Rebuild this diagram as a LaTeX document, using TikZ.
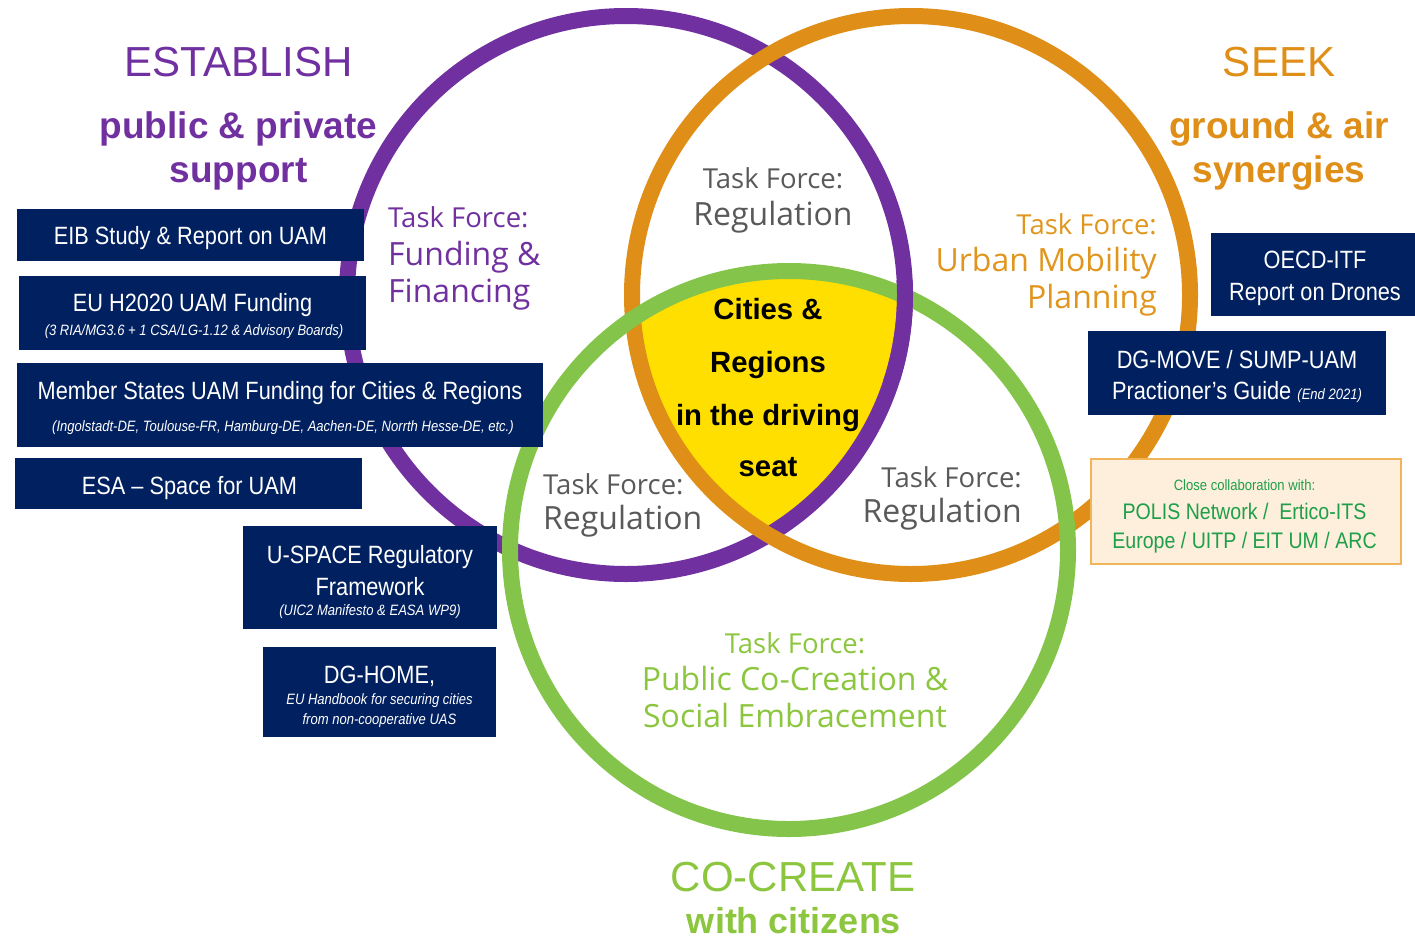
\documentclass[tikz,border=0pt]{standalone}
\usepackage{fontspec}
\setmainfont{Liberation Sans}
\newfontfamily\narrowf[FakeStretch=0.87]{Liberation Sans}
\newfontfamily\openf{Open Sans}
\definecolor{cpurple}{HTML}{7030A0}
\definecolor{corange}{HTML}{DF8E17}
\definecolor{cgreen}{HTML}{84C44B}
\definecolor{cnavy}{HTML}{002060}
\definecolor{cyellow}{HTML}{FFDF00}
\definecolor{cgray}{HTML}{595959}
\definecolor{ctfgreen}{HTML}{8CC63F}
\definecolor{ctforange}{HTML}{E0961E}
\definecolor{cboxfill}{HTML}{FDEFDB}
\definecolor{cboxdraw}{HTML}{F0B45A}
\definecolor{cboxtext}{HTML}{1F9F4A}
\tikzset{
  ring/.style={line width=16pt},
  navybox/.style={fill=cnavy,draw=none,inner sep=0pt,anchor=north west},
  txt/.style={inner sep=0pt,anchor=base},
  boxbig/.style={txt,text=white,font=\narrowf\fontsize{25}{30}\selectfont},
  boxsmall/.style={txt,text=white,font=\narrowf\itshape\fontsize{15}{18}\selectfont},
  title/.style={txt,font=\fontsize{42}{50}\selectfont},
  subtitle/.style={txt,font=\bfseries\fontsize{37}{44}\selectfont},
  tfhead/.style={txt,font=\openf\fontsize{27.5}{33}\selectfont},
  tfmain/.style={txt,font=\openf\fontsize{32}{38}\selectfont},
  core/.style={txt,font=\bfseries\fontsize{29.3}{35}\selectfont},
}
\begin{document}
\begin{tikzpicture}[x=1pt,y=-1pt]
\useasboundingbox (0,0) rectangle (1415,942);
% centres of the three rings
\coordinate (cp) at (626,295);
\coordinate (co) at (911,295);
\coordinate (cg) at (789,550);
% yellow core
\begin{scope}
  \clip (cp) circle[radius=279pt];
  \clip (co) circle[radius=279pt];
  \fill[cyellow] (cg) circle[radius=279pt];
\end{scope}
% rings
\draw[ring,cpurple] (cp) circle[radius=279pt];
\draw[ring,corange] (co) circle[radius=279pt];
\draw[ring,cgreen] (cg) circle[radius=279pt];
\begin{scope}
  \clip (860,280) rectangle (960,380);
  \draw[ring,cpurple] (cp) circle[radius=279pt];
\end{scope}

% titles
\node[title,text=cpurple] (est) at (238.5,76) {ESTABLISH};
\node[subtitle,text=cpurple] (est1) at (238.5,138) {public \& private};
\node[subtitle,text=cpurple] (est2) at (238.5,182) {support};
\node[title,text=corange] (seek) at (1279,76) {SEEK};
\node[subtitle,text=corange] (seek1) at (1279,138) {ground \& air};
\node[subtitle,text=corange] (seek2) at (1279,182) {synergies};
\node[title,text=ctfgreen] (cocr) at (793,891) {CO-CREATE};
\node[subtitle,text=ctfgreen,font=\bfseries\fontsize{36}{43}\selectfont] (cocr1) at (794,933) {with citizens};

% task forces
\node[tfhead,anchor=base west,text=cpurple] (tfp1) at (388,227) {Task Force:};
\node[tfmain,anchor=base west,text=cpurple] (tfp2) at (388,265) {Funding \&};
\node[tfmain,anchor=base west,text=cpurple] (tfp3) at (388,302) {Financing};

\node[tfhead,text=cgray] (tft1) at (773,188) {Task Force:};
\node[tfmain,text=cgray] (tft2) at (773,225) {Regulation};

\node[tfhead,anchor=base east,text=ctforange] (tfo1) at (1157,234) {Task Force:};
\node[tfmain,anchor=base east,text=ctforange] (tfo2) at (1157,271) {Urban Mobility};
\node[tfmain,anchor=base east,text=ctforange] (tfo3) at (1157,308) {Planning};

\node[tfhead,anchor=base west,text=cgray] (tfl1) at (543,494) {Task Force:};
\node[tfmain,anchor=base west,text=cgray] (tfl2) at (543,529) {Regulation};

\node[tfhead,anchor=base east,text=cgray] (tfr1) at (1022,487) {Task Force:};
\node[tfmain,anchor=base east,text=cgray] (tfr2) at (1022,522) {Regulation};

\node[tfhead,text=ctfgreen] (tfg1) at (795,653) {Task Force:};
\node[tfmain,text=ctfgreen] (tfg2) at (795,690) {Public Co-Creation \&};
\node[tfmain,text=ctfgreen] (tfg3) at (795,727) {Social Embracement};

% core
\node[core] (core1) at (768,319) {Cities \&};
\node[core] (core2) at (768,372) {Regions};
\node[core] (core3) at (768,425) {in the driving};
\node[core] (core4) at (768,476) {seat};

% left boxes
\node[navybox,minimum width=347pt,minimum height=52pt] (eib) at (17,209) {};
\node[boxbig] (eibt) at (190.5,244) {EIB Study \& Report on UAM};

\node[navybox,minimum width=347pt,minimum height=74pt] (h2020) at (19,276) {};
\node[boxbig] (h2020t) at (192.5,311) {EU H2020 UAM Funding};
\node[boxsmall] (h2020s) at (194,335) {(3 RIA/MG3.6 + 1 CSA/LG-1.12 \& Advisory Boards)};

\node[navybox,minimum width=526pt,minimum height=84pt] (ms) at (17,363) {};
\node[boxbig] (mst) at (280,399) {Member States UAM Funding for Cities \& Regions};
\node[boxsmall] (mss) at (283,431) {(Ingolstadt-DE, Toulouse-FR, Hamburg-DE, Aachen-DE, Norrth Hesse-DE, etc.)};

\node[navybox,minimum width=347pt,minimum height=51pt] (esa) at (15,458) {};
\node[boxbig] (esat) at (189.5,494) {ESA – Space for UAM};

\node[navybox,minimum width=254pt,minimum height=103pt] (usp) at (243,526) {};
\node[boxbig] (uspt1) at (370,563) {U-SPACE Regulatory};
\node[boxbig] (uspt2) at (370,595) {Framework};
\node[boxsmall] (usps) at (370,615) {(UIC2 Manifesto \& EASA WP9)};

\node[navybox,minimum width=233pt,minimum height=90pt] (dgh) at (263,647) {};
\node[boxbig] (dght) at (379.5,683) {DG-HOME,};
\node[boxsmall] (dghs1) at (379.5,704) {EU Handbook for securing cities};
\node[boxsmall] (dghs2) at (379.5,724) {from non-cooperative UAS};

% right boxes
\node[navybox,minimum width=204pt,minimum height=83pt] (oecd) at (1211,233) {};
\node[boxbig] (oecdt1) at (1315,268) {OECD-ITF};
\node[boxbig] (oecdt2) at (1315,300) {Report on Drones};

\node[navybox,minimum width=298pt,minimum height=84pt] (dgm) at (1088,331) {};
\node[boxbig] (dgmt1) at (1237,368) {DG-MOVE / SUMP-UAM};
\node[boxbig] (dgmt2) at (1237,399) {Practioner’s Guide {\itshape\fontsize{15}{18}\selectfont (End 2021)}};

\node[fill=cboxfill,draw=cboxdraw,line width=2pt,inner sep=0pt,anchor=north west,minimum width=310pt,minimum height=105pt] (collab) at (1090,458) {};
\node[txt,text=cboxtext,font=\narrowf\fontsize{15}{18}\selectfont] (colt1) at (1244.5,490) {Close collaboration with:};
\node[txt,text=cboxtext,font=\narrowf\fontsize{22.5}{27}\selectfont] (colt2) at (1244.5,519) {POLIS Network /\ \ Ertico-ITS};
\node[txt,text=cboxtext,font=\narrowf\fontsize{22.5}{27}\selectfont] (colt3) at (1244.5,548) {Europe / UITP / EIT UM / ARC};
\end{tikzpicture}
\end{document}
